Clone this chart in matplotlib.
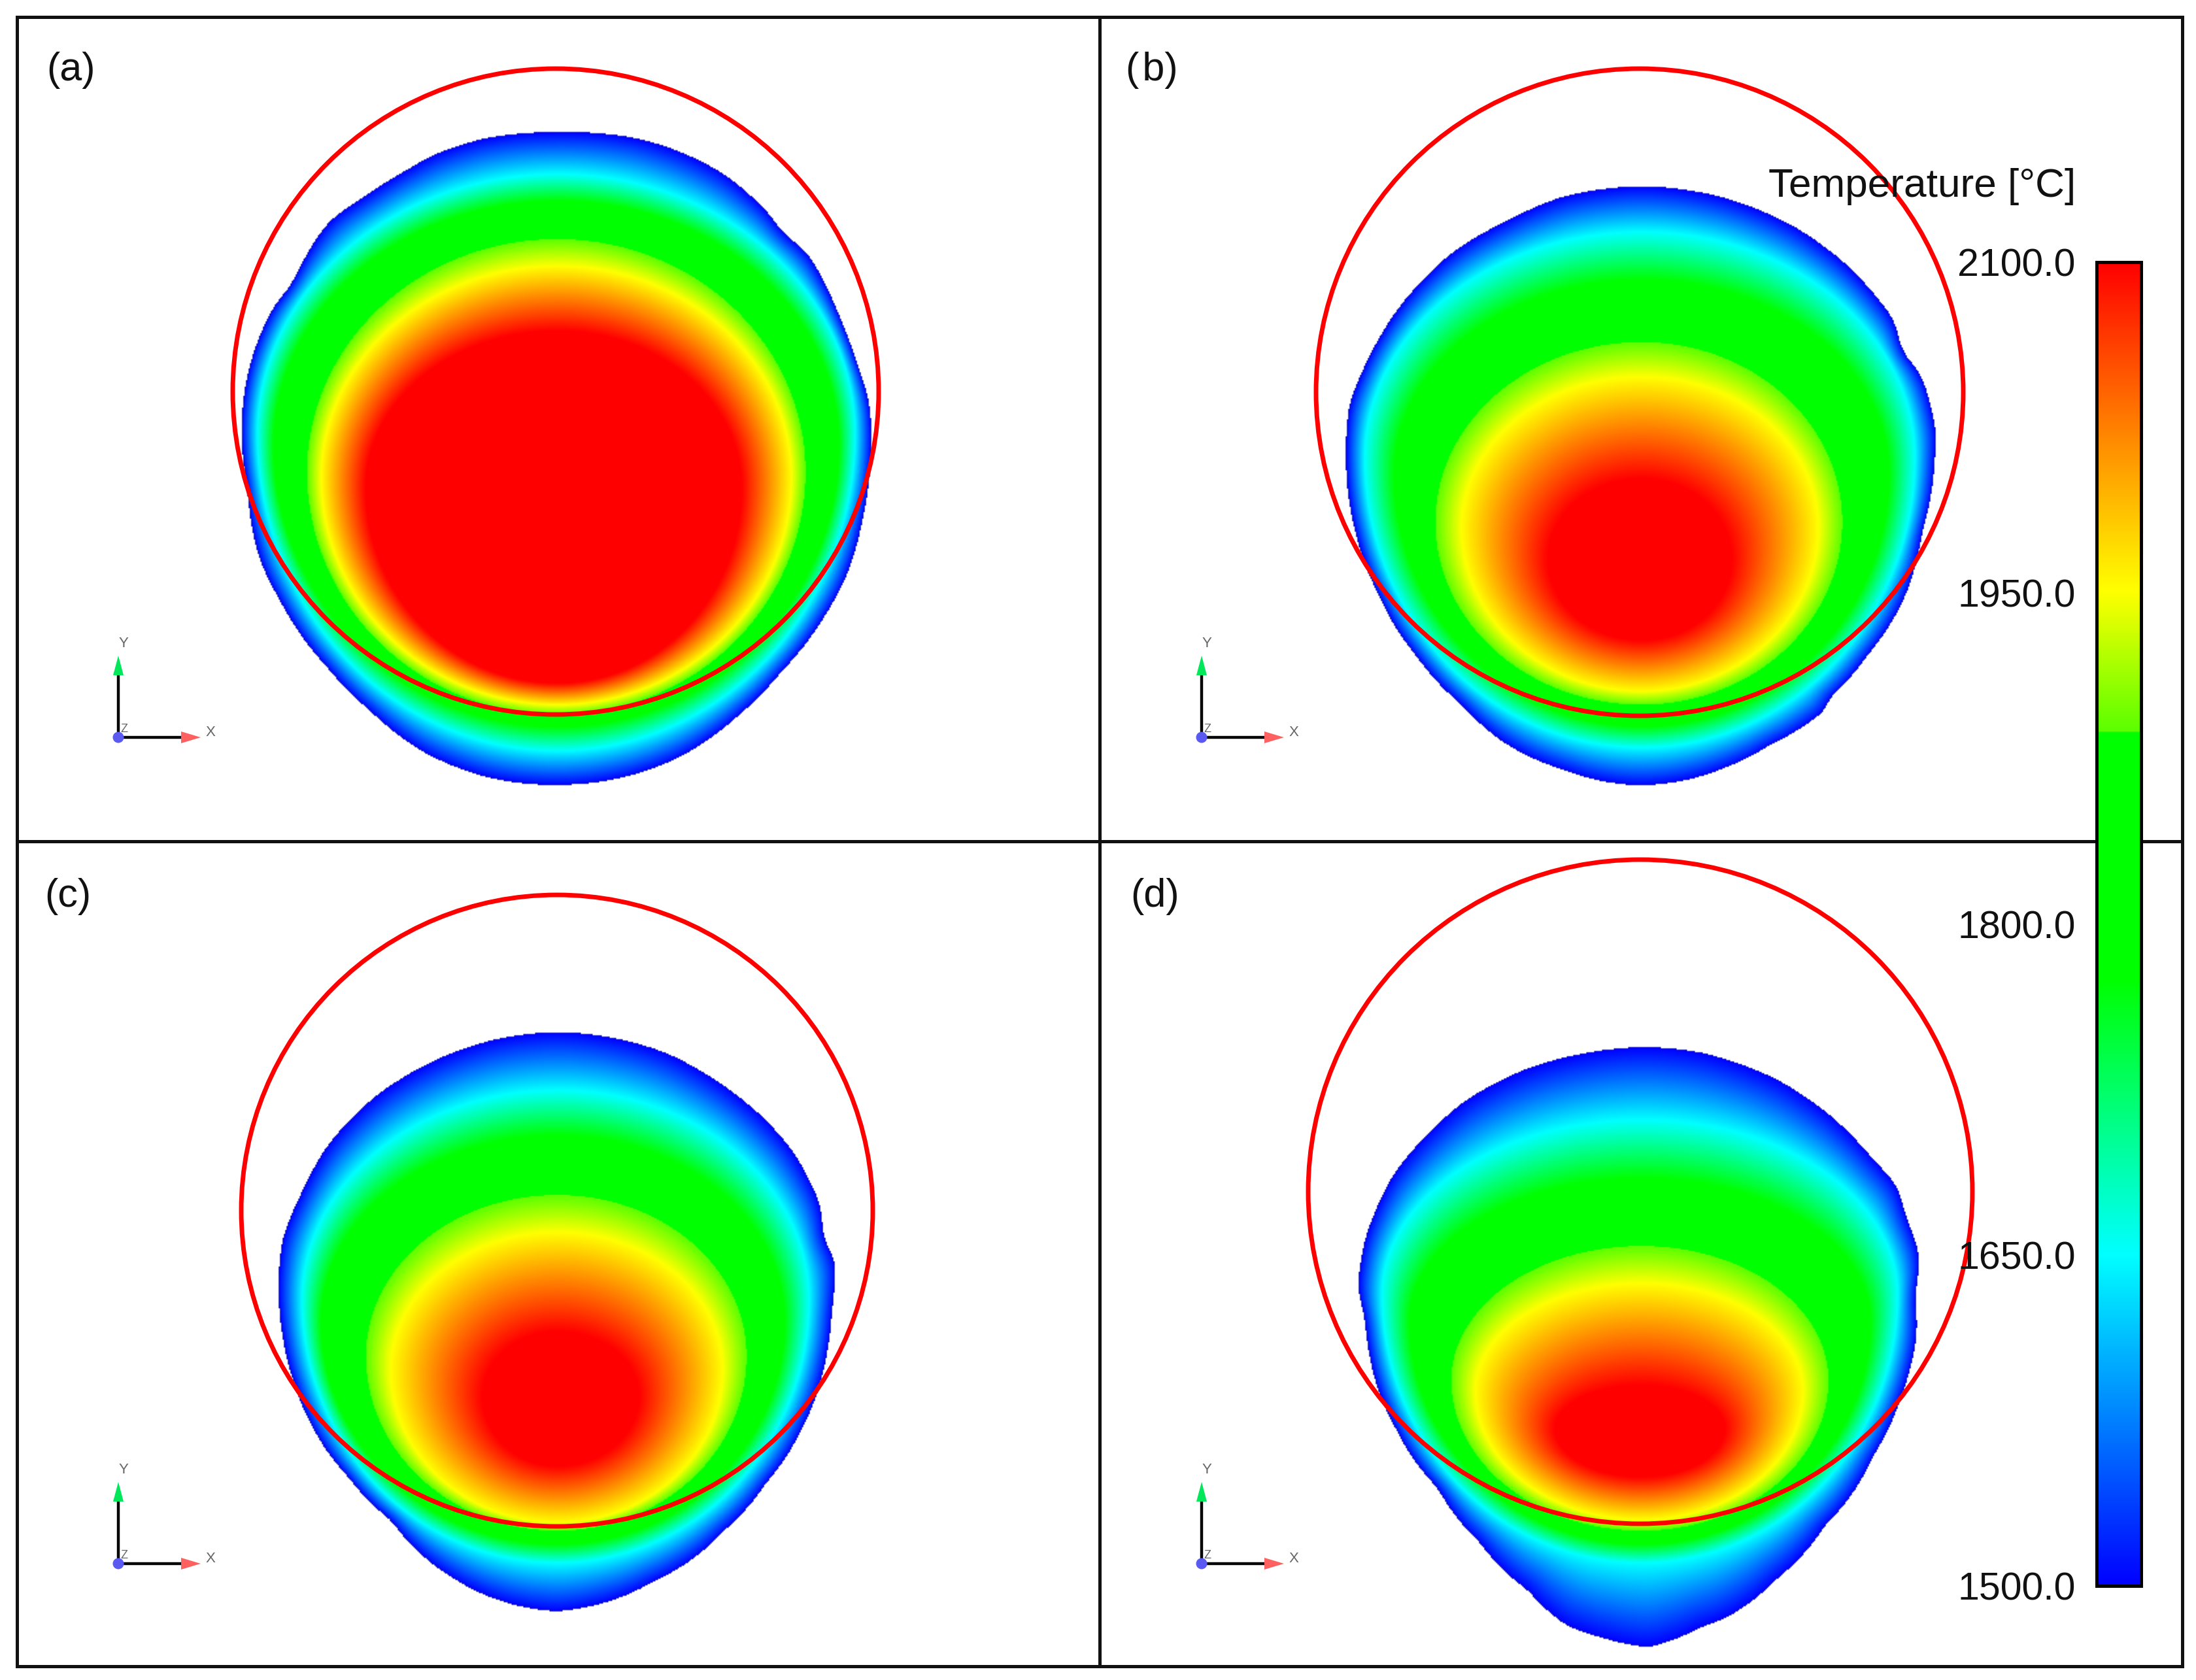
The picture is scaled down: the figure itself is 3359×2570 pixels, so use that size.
#!/usr/bin/env python
# file: plot.py

import numpy as np
import matplotlib
matplotlib.use('Agg')
import matplotlib.pyplot as plt
from matplotlib.colors import LinearSegmentedColormap, Normalize
from matplotlib.cm import ScalarMappable
from matplotlib.patches import Ellipse, Polygon, Circle

plt.rcParams['font.family'] = ['Liberation Sans', 'DejaVu Sans']

W, H = 3359, 2570

tick_values = [1500, 1650, 1800, 1950, 2100]
tick_labels = ['1500.0', '1650.0', '1800.0', '1950.0', '2100.0']
bar_title = 'Temperature [°C]'
panel_names = ['(a)', '(\u200ab)', '(c)', '(d)']

# colour scale
stop_temps = [1500, 1650, 1775, 1887, 1887.5, 1951, 2100]
stop_cols = ['#0000ff', '#00ffff', '#00ff00', '#00ff00', '#5aff00', '#ffff00', '#ff0000']

# isotherm levels, outer edge first
iso_temps = [1500, 1650, 1775, 1887, 1951, 2100]

# melt pool outlines (crop px, converted below)
outline_a = [(785,243),(900,255),(960,280),(1020,320),(1085,395),(1100,425),(1140,470),(1165,530),(1185,590),
             (1205,660),(1225,745),(1226,860),(1215,960),(1190,1070),(1160,1140),(1100,1240),(1040,1320),
             (960,1395),(890,1430),(785,1448),(690,1435),(600,1390),(520,1310),(460,1230),(395,1110),(365,1030),
             (348,900),(340,770),(350,680),(365,620),(385,565),(410,525),(445,440),(465,405),(510,365),(570,315),
             (610,285),(680,255)]
outline_b = [(765,345),(880,365),(985,420),(1060,490),(1130,595),(1140,650),(1170,700),(1190,800),(1188,860),
             (1170,990),(1145,1110),(1090,1220),(1035,1300),(1030,1320),(950,1385),(880,1430),(760,1460),(650,1430),
             (560,1375),(505,1310),(440,1220),(385,1105),(350,980),(338,850),(343,750),(365,680),(415,570),
             (490,470),(570,410),(650,365)]
outline_c = [(785,362),(860,372),(940,402),(1000,445),(1070,515),(1115,580),(1155,680),(1160,745),(1177,790),
             (1172,880),(1165,960),(1130,1100),(1080,1200),(1020,1290),(920,1385),(840,1428),(785,1440),(730,1430),
             (640,1380),(550,1270),(490,1190),(445,1110),(415,1020),(398,930),(392,850),(398,745),(425,660),
             (460,575),(530,480),(620,410),(700,375)]
outline_d = [(765,390),(850,400),(960,450),(1040,520),(1100,600),(1135,650),(1145,700),(1167,780),(1160,850),
             (1162,930),(1140,1040),(1100,1150),(1030,1280),(960,1380),(890,1450),(850,1470),(775,1507),(710,1490),
             (655,1465),(600,1400),(530,1310),(470,1210),(410,1100),(385,1030),(370,950),(365,890),(355,840),
             (365,750),(405,630),(450,560),(510,490),(600,430),(690,400)]

# inner isotherms: top, bottom, left, right, y of widest point (crop px)
iso_a = [(320,1385,362,1205,800),(370,1340,385,1182,820),(440,1318,432,1135,870),(490,1300,452,1115,880),(610,1260,515,1045,900)]
iso_b = [(430,1390,365,1160,850),(520,1350,408,1122,880),(635,1310,467,1055,970),(700,1285,505,1020,980),(890,1190,630,895,1040)]
iso_c = [(470,1350,425,1140,860),(555,1315,452,1105,900),(665,1290,515,1052,965),(735,1275,550,1018,990),(920,1170,680,900,1040)]
iso_d = [(525,1350,390,1135,850),(635,1315,430,1095,900),(760,1290,490,1035,1010),(830,1270,525,998,1030),(1020,1190,640,885,1100)]

# red circles: centre x, centre y, radius x, radius y (full px)
circle_a = (850, 599, 494, 494)
circle_b = (2508, 600, 495, 495)
circle_c = (852, 1852, 483, 483)
circle_d = (2509, 1823, 508, 508)

# crop scale x, scale y, crop origin x, crop origin y, centre line in crop px
crop_a = (0.9224, 1.206, 0, 0, 785)
crop_b = (0.945, 1.2155, 1700, 0, 765)
crop_c = (0.9224, 1.2155, 0, 1280, 785)
crop_d = (0.945, 1.2155, 1700, 1280, 765)

label_pos = [(71, 108), (1722, 107), (68, 1372), (1729, 1372)]
triad_pos = [(181, 1128), (1838, 1128), (181, 2392), (1838, 2392)]
field_box = [(30, 1678, 30, 1283), (1686, 3334, 30, 1283), (30, 1678, 1290, 2545), (1686, 3334, 1290, 2545)]


def to_polar(px, py, xc, yc):
	ang = np.arctan2(py - yc, px - xc)
	rad = np.hypot(px - xc, py - yc)
	return ang, rad


def egg(top, bot, left, right, ywide, xmid, crop):
	sx, sy, x0, y0 = crop[:4]
	t = np.linspace(0, 2 * np.pi, 361)
	c = np.cos(t)
	s = np.sin(t)
	px = np.where(c > 0, xmid + (right - xmid) * c, xmid + (xmid - left) * c)
	py = np.where(s > 0, ywide + (bot - ywide) * s, ywide + (ywide - top) * s)
	return x0 + px / sx, y0 + py / sy


def soften(ang, rad):
	# rounds off the corners of a hand read outline
	grid = np.linspace(-np.pi, np.pi, 720, endpoint=False)
	r = np.interp(grid, ang, rad, period=2 * np.pi)
	r = np.convolve(np.r_[r[-4:], r, r[:4]], np.ones(9) / 9.0, mode='valid')
	return grid, r


def temp_field(outline, iso, crop, box):
	sx, sy, x0, y0, xmid = crop
	xc = x0 + xmid / sx
	yc = y0 + iso[4][4] / sy
	xs = np.arange(box[0], box[1], 2)
	ys = np.arange(box[2], box[3], 2)
	X, Y = np.meshgrid(xs, ys)
	th, r = to_polar(X, Y, xc, yc)
	pts = np.array(outline, dtype=float)
	ang, rad = to_polar(x0 + pts[:, 0] / sx, y0 + pts[:, 1] / sy, xc, yc)
	ang, rad = soften(ang, rad)
	radii = [np.interp(th, ang, rad, period=2 * np.pi)]
	for row in iso:
		ex, ey = egg(row[0], row[1], row[2], row[3], row[4], xmid, crop)
		ang, rad = to_polar(ex, ey, xc, yc)
		radii.append(np.interp(th, ang, rad, period=2 * np.pi))
	T = np.full(X.shape, float(iso_temps[-1]))
	for k in range(len(iso_temps) - 1):
		outer = radii[k]
		inner = np.minimum(radii[k + 1], outer - 1)
		m = (r <= outer) & (r > inner)
		T[m] = iso_temps[k] + (outer[m] - r[m]) / (outer[m] - inner[m]) * (iso_temps[k + 1] - iso_temps[k])
	T = np.ma.masked_where(r > radii[0], T)
	return T


def draw_triad(ax, ox, oy):
	ax.plot([ox, ox], [oy, oy - 100], color='black', lw=3.2, solid_capstyle='butt', zorder=5)
	ax.plot([ox, ox + 98], [oy, oy], color='black', lw=3.2, solid_capstyle='butt', zorder=5)
	ax.add_patch(Polygon([(ox - 8, oy - 95), (ox + 8, oy - 95), (ox, oy - 125)], color='#00e85a', lw=0, zorder=6))
	ax.add_patch(Polygon([(ox + 96, oy - 9), (ox + 96, oy + 9), (ox + 126, oy)], color='#ff6060', lw=0, zorder=6))
	ax.add_patch(Circle((ox, oy), 8.5, color='#5a5af0', lw=0, zorder=6))
	ax.text(ox + 8, oy - 143, 'Y', fontsize=16, color='#666666', ha='center', va='center', zorder=7)
	ax.text(ox + 141, oy - 8, 'X', fontsize=16, color='#666666', ha='center', va='center', zorder=7)
	ax.text(ox + 9, oy - 13, 'Z', fontsize=13, color='#666666', ha='center', va='center', zorder=7)


cmap = LinearSegmentedColormap.from_list(
	'temp', [((t - 1500) / 600.0, c) for t, c in zip(stop_temps, stop_cols)], N=1024)
norm = Normalize(1500, 2100)

fig = plt.figure(figsize=(W / 100, H / 100), dpi=100)
ax = fig.add_axes([0, 0, 1, 1])

outlines = [outline_a, outline_b, outline_c, outline_d]
isos = [iso_a, iso_b, iso_c, iso_d]
crops = [crop_a, crop_b, crop_c, crop_d]
circles = [circle_a, circle_b, circle_c, circle_d]

for i in range(4):
	box = field_box[i]
	T = temp_field(outlines[i], isos[i], crops[i], box)
	ax.imshow(T, cmap=cmap, norm=norm, extent=(box[0], box[1], box[3], box[2]), origin='upper',
		interpolation='bilinear', aspect='auto', zorder=2)
	cx, cy, rx, ry = circles[i]
	ax.add_patch(Ellipse((cx, cy), 2 * rx, 2 * ry, fill=False, edgecolor='#ff0000', lw=5, zorder=4))
	ax.text(label_pos[i][0], label_pos[i][1], panel_names[i], fontsize=44, color='#111111', ha='left', va='center', zorder=5)
	draw_triad(ax, triad_pos[i][0], triad_pos[i][1])

# frame lines
ax.plot([26, 3338, 3338, 26, 26], [26, 26, 2549, 2549, 26], color='#111111', lw=3.6, zorder=3, solid_joinstyle='miter')
ax.plot([1682, 1682], [26, 2549], color='#111111', lw=3.6, zorder=3)
ax.plot([26, 3338], [1287, 1287], color='#111111', lw=3.6, zorder=3)

ax.set_xlim(0, W)
ax.set_ylim(H, 0)
ax.axis('off')

# colour bar
cax = fig.add_axes([3206.5 / W, 1 - 2426 / H, 68 / W, 2025 / H])
sm = ScalarMappable(norm=norm, cmap=cmap)
cb = fig.colorbar(sm, cax=cax)
cb.outline.set_linewidth(3.6)
cb.outline.set_edgecolor('black')
cax.yaxis.set_ticks_position('left')
cb.set_ticks(tick_values)
cb.set_ticklabels(tick_labels)
cax.tick_params(axis='y', length=0, pad=23, labelsize=42.5, labelcolor='#111111')

ax.text(3175, 286, bar_title, fontsize=44.7, color='#111111', ha='right', va='center', zorder=5)

plt.savefig('out.png', dpi=100)
